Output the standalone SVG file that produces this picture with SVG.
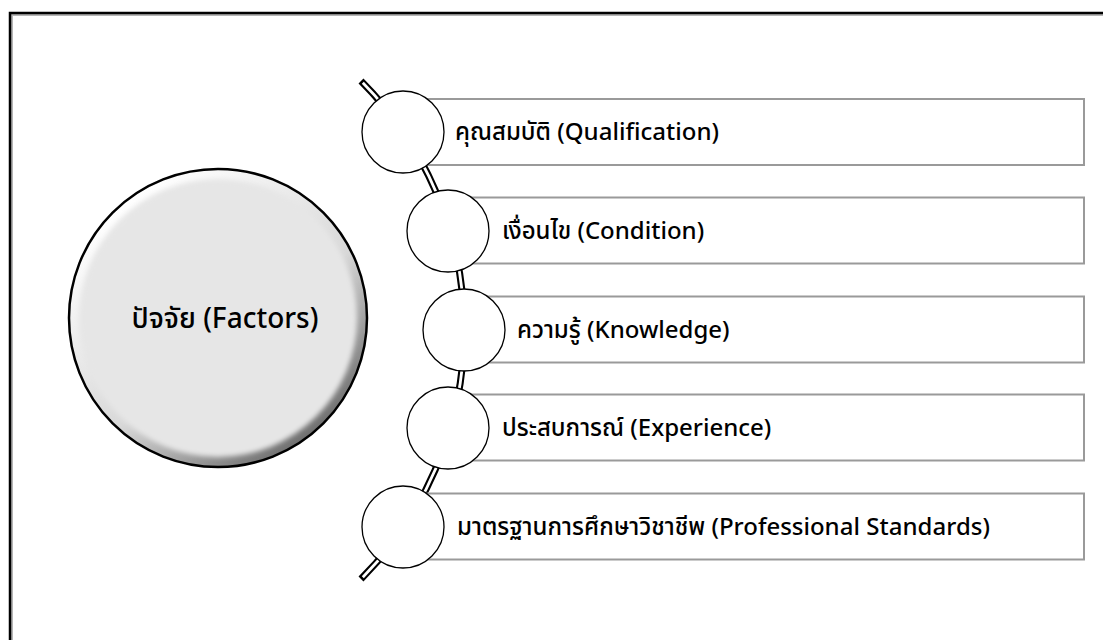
<svg xmlns="http://www.w3.org/2000/svg" width="1103" height="640" viewBox="0 0 1103 640">
<defs>
<style>
.lbl{font-family:"Noto Sans Thai","Noto Sans","DejaVu Sans",sans-serif;font-size:24px;font-weight:500;fill:#000}
.big{font-size:28px}
.box{fill:#fff;stroke:#9a9a9a;stroke-width:2}
.dot{fill:#fff;stroke:#000;stroke-width:1.3}
</style>
<linearGradient id="rim" x1="0.2" y1="0.1" x2="0.85" y2="0.95">
<stop offset="0" stop-color="#ffffff"/>
<stop offset="0.55" stop-color="#d8d8d8"/>
<stop offset="1" stop-color="#5e5e5e"/>
</linearGradient>
<filter id="soft" x="-10%" y="-10%" width="120%" height="120%">
<feGaussianBlur stdDeviation="2.5"/>
</filter>
</defs>
<rect width="1103" height="640" fill="#fff"/>
<path d="M12 640 V15 H1103" fill="none" stroke="#b5b5b5" stroke-width="2"/>
<path d="M10 640 V13 H1103" fill="none" stroke="#000" stroke-width="2.5"/>

<g id="factors">
<circle cx="218" cy="318" r="149" fill="url(#rim)" stroke="#000" stroke-width="2.5"/>
<circle cx="218" cy="318" r="139" fill="#e6e6e6" filter="url(#soft)"/>
<text class="lbl big" x="225" y="328" text-anchor="middle">ปัจจัย (Factors)</text>
</g>

<g id="connectors">
<path d="M361 81 A352 352 0 0 1 361 579" fill="none" stroke="#000" stroke-width="7"/>
<path d="M362.8 82.8 A352 352 0 0 1 362.8 577.2" fill="none" stroke="#fff" stroke-width="2.8"/>
</g>

<g id="item1">
<rect class="box" x="403" y="99" width="681" height="66"/>
<circle class="dot" cx="403" cy="132" r="41"/>
<text class="lbl" x="455" y="140">คุณสมบัติ (Qualification)</text>
</g>
<g id="item2">
<rect class="box" x="448" y="197.5" width="636" height="66"/>
<circle class="dot" cx="448" cy="231" r="41"/>
<text class="lbl" x="502" y="239">เงื่อนไข (Condition)</text>
</g>
<g id="item3">
<rect class="box" x="464" y="296.5" width="620" height="66"/>
<circle class="dot" cx="464" cy="330" r="41"/>
<text class="lbl" x="517" y="338">ความรู้ (Knowledge)</text>
</g>
<g id="item4">
<rect class="box" x="448" y="394.5" width="636" height="66"/>
<circle class="dot" cx="448" cy="428" r="41"/>
<text class="lbl" x="502" y="436">ประสบการณ์ (Experience)</text>
</g>
<g id="item5">
<rect class="box" x="403" y="493.5" width="681" height="66"/>
<circle class="dot" cx="403" cy="527" r="41"/>
<text class="lbl" x="457" y="535">มาตรฐานการศึกษาวิชาชีพ (Professional Standards)</text>
</g>
</svg>
